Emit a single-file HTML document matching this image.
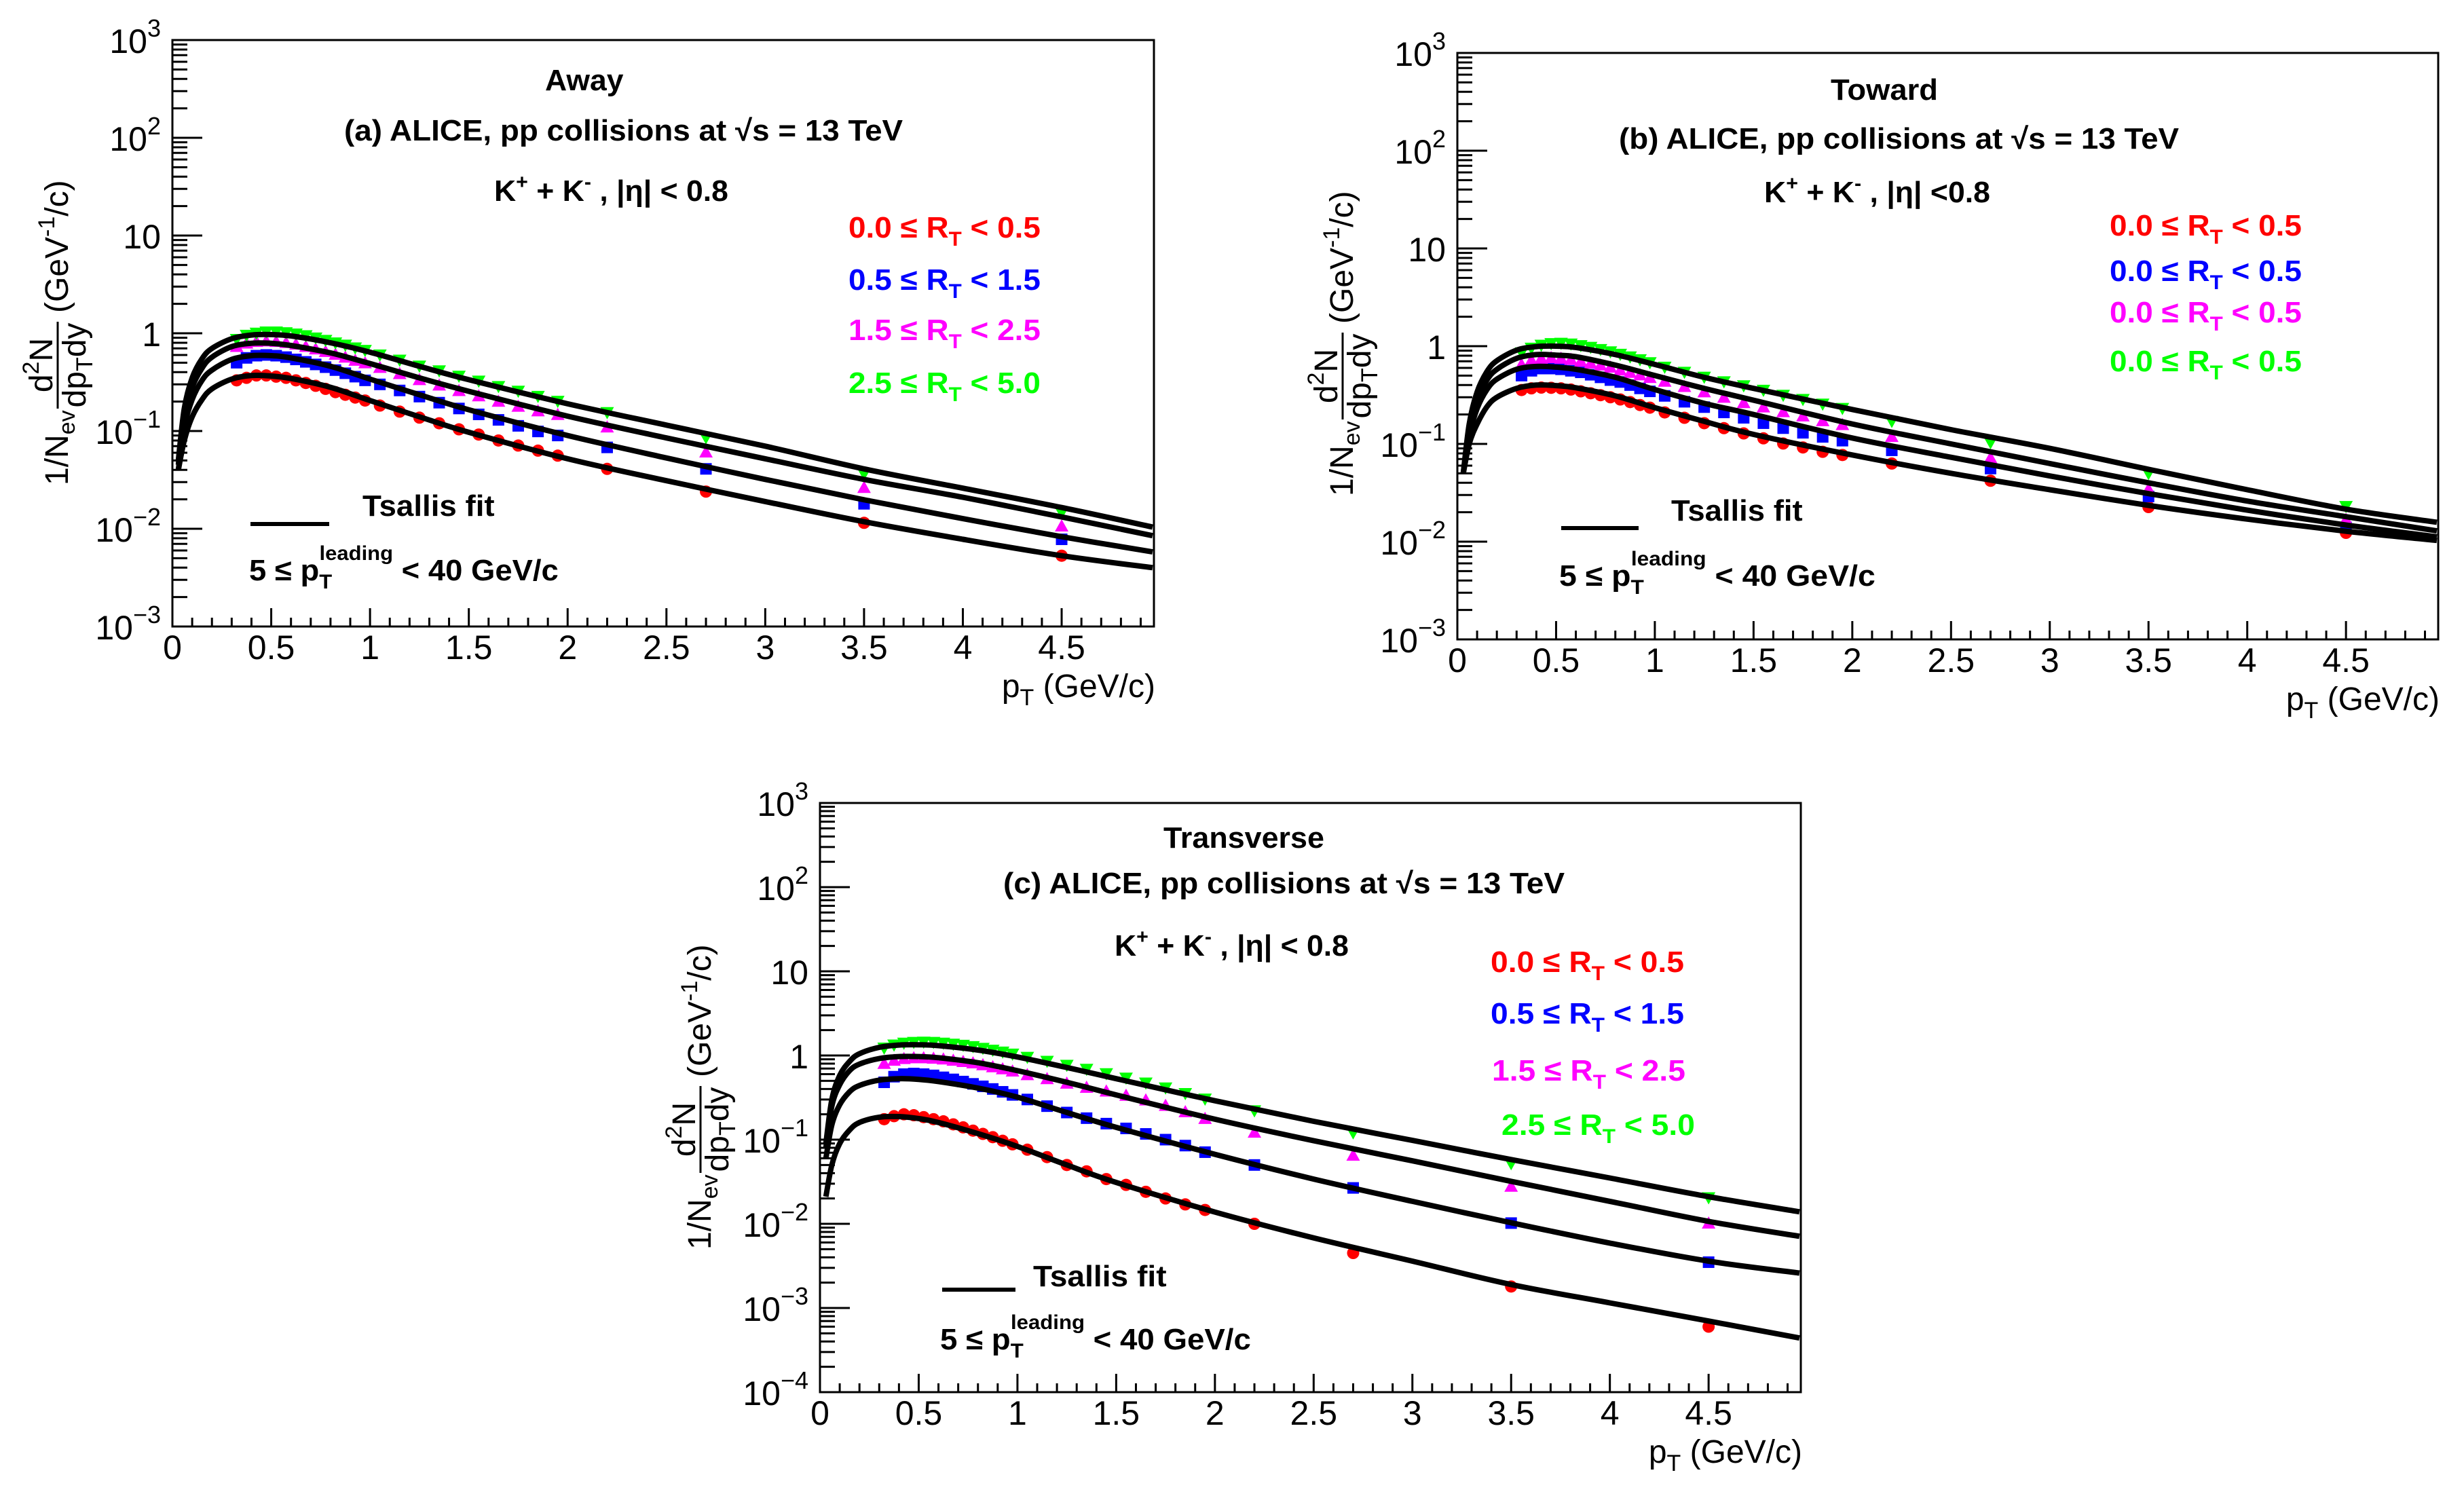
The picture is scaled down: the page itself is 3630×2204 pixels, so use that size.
<!DOCTYPE html>
<html>
<head>
<meta charset="utf-8">
<style>
html,body{margin:0;padding:0;background:#fff;}
svg{display:block;}
text{font-family:"Liberation Sans",Arial,sans-serif;}
.ann{font-weight:bold;font-size:44px;}
</style>
</head>
<body>
<svg id="chart" xmlns="http://www.w3.org/2000/svg" width="3630" height="2204" viewBox="0 0 3630 2204">
<rect x="0" y="0" width="3630" height="2204" fill="#fff"/>
</svg>
<script>
// ---------- data ----------
const ptBins = [0.325,0.375,0.425,0.475,0.525,0.575,0.625,0.675,0.725,0.775,0.825,0.875,0.925,0.975,1.05,1.15,1.25,1.35,1.45,1.55,1.65,1.75,1.85,1.95,2.2,2.7,3.5,4.5];
const fitX = [0.03,0.06,0.1,0.15,0.2,0.3,0.4,0.5,0.6,0.8,1.0,1.25,1.5,2.0,2.5,3.0,3.5,4.0,4.5,4.96];
const seriesNames = ["rt-0-0.5","rt-0.5-1.5","rt-1.5-2.5","rt-2.5-5.0"];

// Away (a)
const awayRed = [0.33,0.35,0.37,0.37,0.36,0.35,0.33,0.31,0.29,0.27,0.25,0.235,0.22,0.205,0.182,0.158,0.137,0.12,0.104,0.092,0.08,0.071,0.063,0.056,0.041,0.024,0.0115,0.0053];
const awayBlue = [0.50,0.56,0.59,0.60,0.59,0.57,0.54,0.51,0.48,0.45,0.42,0.39,0.36,0.33,0.30,0.26,0.225,0.195,0.17,0.148,0.13,0.113,0.099,0.09,0.068,0.041,0.018,0.0078];
const awayMagenta = [0.72,0.78,0.81,0.82,0.81,0.79,0.76,0.72,0.68,0.64,0.60,0.56,0.52,0.49,0.44,0.38,0.33,0.29,0.255,0.225,0.198,0.176,0.158,0.145,0.108,0.06,0.026,0.0105];
const awayGreen = [0.88,0.97,1.02,1.05,1.05,1.03,1.0,0.96,0.91,0.86,0.81,0.77,0.72,0.68,0.61,0.54,0.47,0.42,0.37,0.33,0.29,0.26,0.23,0.205,0.157,0.087,0.037,0.0148];
const awayFitRed = [0.04,0.08,0.14,0.21,0.27,0.34,0.37,0.365,0.345,0.28,0.205,0.14,0.097,0.052,0.031,0.019,0.0118,0.0078,0.0053,0.0040];
const awayFitBlue = [0.04,0.11,0.21,0.33,0.42,0.54,0.59,0.59,0.56,0.46,0.34,0.235,0.165,0.09,0.053,0.032,0.0198,0.0127,0.0083,0.0058];
const awayFitMagenta = [0.045,0.14,0.28,0.44,0.57,0.73,0.79,0.79,0.75,0.63,0.49,0.35,0.255,0.142,0.085,0.052,0.032,0.021,0.0132,0.0085];
const awayFitGreen = [0.05,0.17,0.35,0.55,0.70,0.88,0.96,0.97,0.94,0.80,0.64,0.46,0.335,0.19,0.115,0.07,0.041,0.026,0.0165,0.0104];

// Toward (b)
const towardRed = [0.356,0.37,0.377,0.375,0.37,0.36,0.345,0.33,0.315,0.3,0.285,0.268,0.25,0.235,0.21,0.185,0.163,0.145,0.128,0.114,0.101,0.092,0.083,0.077,0.063,0.042,0.0226,0.0123];
const towardBlue = [0.50,0.56,0.59,0.59,0.58,0.56,0.54,0.51,0.48,0.45,0.43,0.40,0.37,0.345,0.31,0.27,0.238,0.21,0.185,0.163,0.145,0.13,0.118,0.108,0.086,0.056,0.029,0.014];
const towardMagenta = [0.64,0.71,0.74,0.75,0.74,0.72,0.69,0.66,0.63,0.6,0.56,0.53,0.50,0.47,0.43,0.38,0.335,0.295,0.26,0.235,0.21,0.19,0.17,0.155,0.117,0.071,0.034,0.0166];
const towardGreen = [0.87,0.97,1.04,1.08,1.09,1.07,1.03,0.99,0.94,0.89,0.84,0.79,0.74,0.69,0.62,0.55,0.49,0.44,0.40,0.36,0.32,0.29,0.26,0.235,0.173,0.105,0.0507,0.0233];
const towardFitRed = [0.05,0.10,0.16,0.24,0.3,0.37,0.40,0.395,0.375,0.31,0.235,0.17,0.125,0.077,0.05,0.034,0.0235,0.017,0.0128,0.0103];
const towardFitBlue = [0.05,0.12,0.23,0.36,0.46,0.58,0.62,0.61,0.58,0.48,0.36,0.26,0.2,0.115,0.073,0.047,0.031,0.021,0.0148,0.0112];
const towardFitMagenta = [0.05,0.14,0.28,0.45,0.58,0.75,0.82,0.81,0.78,0.64,0.50,0.37,0.28,0.16,0.10,0.063,0.04,0.026,0.018,0.0129];
const towardFitGreen = [0.05,0.16,0.34,0.55,0.71,0.91,0.99,1.0,0.97,0.82,0.65,0.48,0.37,0.225,0.14,0.09,0.055,0.034,0.0215,0.0158];

// Transverse (c)
const transRed = [0.175,0.19,0.2,0.195,0.185,0.175,0.165,0.152,0.14,0.128,0.117,0.107,0.097,0.088,0.076,0.062,0.05,0.042,0.034,0.029,0.024,0.02,0.017,0.0146,0.010,0.0045,0.0018,0.0006];
const transBlue = [0.48,0.56,0.60,0.61,0.60,0.58,0.55,0.52,0.49,0.46,0.43,0.40,0.37,0.34,0.30,0.25,0.21,0.18,0.155,0.136,0.117,0.1,0.085,0.071,0.05,0.0267,0.0102,0.0035];
const transMagenta = [0.79,0.86,0.90,0.92,0.92,0.91,0.89,0.86,0.83,0.80,0.76,0.72,0.68,0.64,0.58,0.52,0.46,0.41,0.37,0.33,0.29,0.25,0.21,0.175,0.12,0.064,0.0274,0.010];
const transGreen = [1.25,1.36,1.43,1.46,1.47,1.46,1.43,1.39,1.35,1.30,1.24,1.18,1.12,1.06,0.97,0.87,0.78,0.70,0.62,0.55,0.48,0.42,0.36,0.31,0.225,0.123,0.053,0.0208];
const transFitRed = [0.021,0.05,0.09,0.13,0.16,0.185,0.188,0.178,0.16,0.118,0.083,0.05,0.031,0.0138,0.0068,0.0036,0.0019,0.00115,0.0007,0.00044];
const transFitBlue = [0.06,0.15,0.26,0.37,0.44,0.51,0.53,0.52,0.49,0.41,0.32,0.21,0.14,0.067,0.034,0.0185,0.0103,0.0059,0.0036,0.0026];
const transFitMagenta = [0.08,0.25,0.45,0.66,0.79,0.92,0.97,0.97,0.94,0.82,0.66,0.48,0.34,0.175,0.097,0.056,0.032,0.0185,0.0107,0.0071];
const transFitGreen = [0.09,0.3,0.58,0.85,1.05,1.25,1.33,1.34,1.31,1.16,0.96,0.72,0.53,0.29,0.165,0.098,0.058,0.035,0.021,0.0139];

const xTickLabels = ["0","0.5","1","1.5","2","2.5","3","3.5","4","4.5"];

// ---------- drawing ----------
const NS = "http://www.w3.org/2000/svg";
const svg = document.getElementById("chart");
const colors = ["#ff0000","#0000ff","#ff00ff","#00ff00"];
const XMAX = 4.967;

function mk(tag, parent, attrs){
  const e = document.createElementNS(NS, tag);
  for (const k in attrs) e.setAttribute(k, attrs[k]);
  parent.appendChild(e);
  return e;
}

function catmull(pts){
  let d = "M" + pts[0][0].toFixed(1) + "," + pts[0][1].toFixed(1);
  for (let i = 0; i < pts.length - 1; i++){
    const p0 = pts[i-1] || pts[i], p1 = pts[i], p2 = pts[i+1], p3 = pts[i+2] || pts[i+1];
    const c1x = p1[0] + (p2[0]-p0[0])/6, c1y = p1[1] + (p2[1]-p0[1])/6;
    const c2x = p2[0] - (p3[0]-p1[0])/6, c2y = p2[1] - (p3[1]-p1[1])/6;
    d += " C" + c1x.toFixed(1)+","+c1y.toFixed(1)+" "+c2x.toFixed(1)+","+c2y.toFixed(1)+" "+p2[0].toFixed(1)+","+p2[1].toFixed(1);
  }
  return d;
}

function fitText(parent, x, y, w, color, html, name){
  const g = mk("g", parent, {});
  
  
  const t = mk("text", g, {x:0, y:0, "class":"ann", fill:color});
  t.innerHTML = html;
  const bb = t.getBBox();
  const s = w / bb.width;
  g.setAttribute("transform", "translate(" + x + "," + y + ") scale(" + s + ",1) translate(" + (-bb.x) + ",0)");
  return g;
}

function drawYLabel(parent, bx, cy){
  const g = mk("g", parent, {transform:"translate(" + bx + "," + cy + ") rotate(-90)"});
  
  
  const f = 'font-size="48"';
  g.innerHTML =
    '<text x="-224" y="0" ' + f + '>1/N<tspan font-size="34" dy="10">ev</tspan></text>' +
    '<text x="-47" y="-23" ' + f + ' text-anchor="middle">d<tspan font-size="34" dy="-20">2</tspan><tspan dy="20">N</tspan></text>' +
    '<line x1="-111" y1="-15" x2="17" y2="-15" stroke="#000" stroke-width="3"/>' +
    '<text x="-47" y="26" ' + f + ' text-anchor="middle">dp<tspan font-size="34" dy="10">T</tspan><tspan dy="-10">dy</tspan></text>' +
    '<text x="30" y="0" ' + f + '>(GeV<tspan font-size="34" dy="-20">-1</tspan><tspan dy="20">/c)</tspan></text>';
}

const panels = [
  {id:"away", left:254, top:59, right:1700, bottom:923, ymin:-3, ymax:3,
   pts:[awayRed,awayBlue,awayMagenta,awayGreen], fits:[awayFitRed,awayFitBlue,awayFitMagenta,awayFitGreen],
   ylab:[100,491]},
  {id:"toward", left:2147, top:78, right:3592, bottom:942, ymin:-3, ymax:3,
   pts:[towardRed,towardBlue,towardMagenta,towardGreen], fits:[towardFitRed,towardFitBlue,towardFitMagenta,towardFitGreen],
   ylab:[1993,507]},
  {id:"transverse", left:1208, top:1183, right:2653, bottom:2051, ymin:-4, ymax:3,
   pts:[transRed,transBlue,transMagenta,transGreen], fits:[transFitRed,transFitBlue,transFitMagenta,transFitGreen],
   ylab:[1047,1617]}
];

panels.forEach(function(P){
  const sx = v => P.left + v / XMAX * (P.right - P.left);
  const sy = v => P.bottom - (Math.log10(v) - P.ymin) / (P.ymax - P.ymin) * (P.bottom - P.top);
  const g = mk("g", svg, {});
  
  

  const clip = mk("clipPath", g, {id:"clip-" + P.id});
  mk("rect", clip, {x:P.left, y:P.top, width:P.right-P.left, height:P.bottom-P.top});

  const yt = mk("g", g, {stroke:"#000", "stroke-width":3});
  
  
  for (let e = P.ymin; e < P.ymax; e++){
    for (let m = 1; m < 10; m++){
      const y = sy(m * Math.pow(10, e));
      const len = m === 1 ? 44 : 22;
      if (m === 1 && e === P.ymin) continue;
      mk("line", yt, {x1:P.left, y1:y, x2:P.left+len, y2:y});
    }
  }
  const yl = mk("g", g, {"font-size":50, fill:"#000"});
  
  
  for (let e = P.ymin; e <= P.ymax; e++){
    const t = mk("text", yl, {x:P.left-17, y:sy(Math.pow(10,e))+19, "text-anchor":"end"});
    if (e === 0) t.textContent = "1";
    else if (e === 1) t.textContent = "10";
    else t.innerHTML = '10<tspan font-size="36" dy="-24">' + (e < 0 ? "\u2212" + (-e) : e) + '</tspan>';
  }
  const xt = mk("g", g, {stroke:"#000", "stroke-width":3});
  
  
  for (let i = 1; i <= 49; i++){
    const v = i / 10;
    const x = sx(v);
    const len = (i % 5 === 0) ? 27 : 13;
    mk("line", xt, {x1:x, y1:P.bottom, x2:x, y2:P.bottom-len});
  }
  const xl = mk("g", g, {"font-size":50, fill:"#000", "text-anchor":"middle"});
  
  
  xTickLabels.forEach(function(lab, i){
    const t = mk("text", xl, {x:sx(i*0.5), y:P.bottom+48});
    t.textContent = lab;
  });
  const xtt = mk("text", g, {x:P.right+2, y:P.bottom+104, "text-anchor":"end", "font-size":48});
  
  
  xtt.innerHTML = 'p<tspan font-size="34" dy="12">T</tspan><tspan dy="-12"> (GeV/c)</tspan>';
  drawYLabel(g, P.ylab[0], P.ylab[1]);

  const data = mk("g", g, {"clip-path":"url(#clip-" + P.id + ")"});
  
  
  P.pts.forEach(function(arr, si){
    const sg = mk("g", data, {fill:colors[si]});
    
    
    arr.forEach(function(v, i){
      const x = sx(ptBins[i]), y = sy(v);
      let m;
      if (si === 0) m = mk("circle", sg, {cx:x, cy:y, r:9});
      else if (si === 1) m = mk("rect", sg, {x:x-8.5, y:y-8.5, width:17, height:17});
      else if (si === 2) m = mk("polygon", sg, {points:(x)+","+(y-11)+" "+(x+10)+","+(y+7)+" "+(x-10)+","+(y+7)});
      else m = mk("polygon", sg, {points:(x)+","+(y+11)+" "+(x+10)+","+(y-7)+" "+(x-10)+","+(y-7)});
      
      
    });
  });
  const fits = mk("g", g, {"clip-path":"url(#clip-" + P.id + ")", fill:"none", stroke:"#000", "stroke-width":8});
  
  
  P.fits.forEach(function(arr, si){
    const pts = arr.map((v, i) => [sx(fitX[i]), sy(v)]);
    const p = mk("path", fits, {d:catmull(pts)});
    
    
  });
  const fr = mk("rect", g, {x:P.left, y:P.top, width:P.right-P.left, height:P.bottom-P.top, fill:"none", stroke:"#000", "stroke-width":3});
  
  
  P.g = g;
});

// ---------- annotations ----------
const rt = (a,b) => a + ' \u2264 R<tspan font-size="30" dy="12">T</tspan><tspan dy="-12"> &lt; ' + b + '</tspan>';
const kk = (tail) => 'K<tspan font-size="30" dy="-18">+</tspan><tspan dy="18"> + K</tspan><tspan font-size="30" dy="-18">-</tspan><tspan dy="18"> , |\u03b7| ' + tail + '</tspan>';
const lead = (mid) => '5 \u2264 p<tspan font-size="30" dy="12">T</tspan><tspan font-size="30" dx="-18" dy="-42">leading</tspan><tspan dy="30">' + mid + '40 GeV/c</tspan>';

function legendLine(parent, x1, x2, y){
  const l = mk("line", parent, {x1:x1, y1:y, x2:x2, y2:y, stroke:"#000", "stroke-width":6});
  
  
}

let G = panels[0].g;
fitText(G, 803, 133, 116, "#000", "Away", "panel-title");
fitText(G, 507, 207, 824, "#000", "(a) ALICE, pp collisions at \u221as = 13 TeV", "experiment-label");
fitText(G, 728, 296, 345, "#000", kk("&lt; 0.8"), "particle-label");
fitText(G, 1250, 350, 283, colors[0], rt("0.0","0.5"), "legend-entry-red");
fitText(G, 1250, 427, 283, colors[1], rt("0.5","1.5"), "legend-entry-blue");
fitText(G, 1250, 501, 283, colors[2], rt("1.5","2.5"), "legend-entry-magenta");
fitText(G, 1250, 579, 283, colors[3], rt("2.5","5.0"), "legend-entry-green");
legendLine(G, 369, 485, 772);
fitText(G, 534, 760, 195, "#000", "Tsallis fit", "legend-fit-label");
fitText(G, 367, 855, 456, "#000", lead(" &lt; "), "leading-pt-label");

G = panels[1].g;
fitText(G, 2697, 147, 158, "#000", "Toward", "panel-title");
fitText(G, 2385, 219, 826, "#000", "(b) ALICE, pp collisions at \u221as = 13 TeV", "experiment-label");
fitText(G, 2599, 298, 333, "#000", kk("&lt;0.8"), "particle-label");
fitText(G, 3108, 347, 283, colors[0], rt("0.0","0.5"), "legend-entry-red");
fitText(G, 3108, 414, 283, colors[1], rt("0.0","0.5"), "legend-entry-blue");
fitText(G, 3108, 475, 283, colors[2], rt("0.0","0.5"), "legend-entry-magenta");
fitText(G, 3108, 547, 283, colors[3], rt("0.0","0.5"), "legend-entry-green");
legendLine(G, 2300, 2414, 778);
fitText(G, 2462, 767, 194, "#000", "Tsallis fit", "legend-fit-label");
fitText(G, 2297, 863, 466, "#000", lead(" &lt;  "), "leading-pt-label");

G = panels[2].g;
fitText(G, 1714, 1249, 237, "#000", "Transverse", "panel-title");
fitText(G, 1478, 1316, 828, "#000", "(c) ALICE, pp collisions at \u221as = 13 TeV", "experiment-label");
fitText(G, 1642, 1408, 345, "#000", kk("&lt; 0.8"), "particle-label");
fitText(G, 2196, 1432, 285, colors[0], rt("0.0","0.5"), "legend-entry-red");
fitText(G, 2196, 1508, 285, colors[1], rt("0.5","1.5"), "legend-entry-blue");
fitText(G, 2198, 1592, 285, colors[2], rt("1.5","2.5"), "legend-entry-magenta");
fitText(G, 2212, 1672, 285, colors[3], rt("2.5","5.0"), "legend-entry-green");
legendLine(G, 1388, 1496, 1900);
fitText(G, 1522, 1895, 197, "#000", "Tsallis fit", "legend-fit-label");
fitText(G, 1385, 1988, 458, "#000", lead(" &lt; "), "leading-pt-label");
</script>
</body>
</html>
